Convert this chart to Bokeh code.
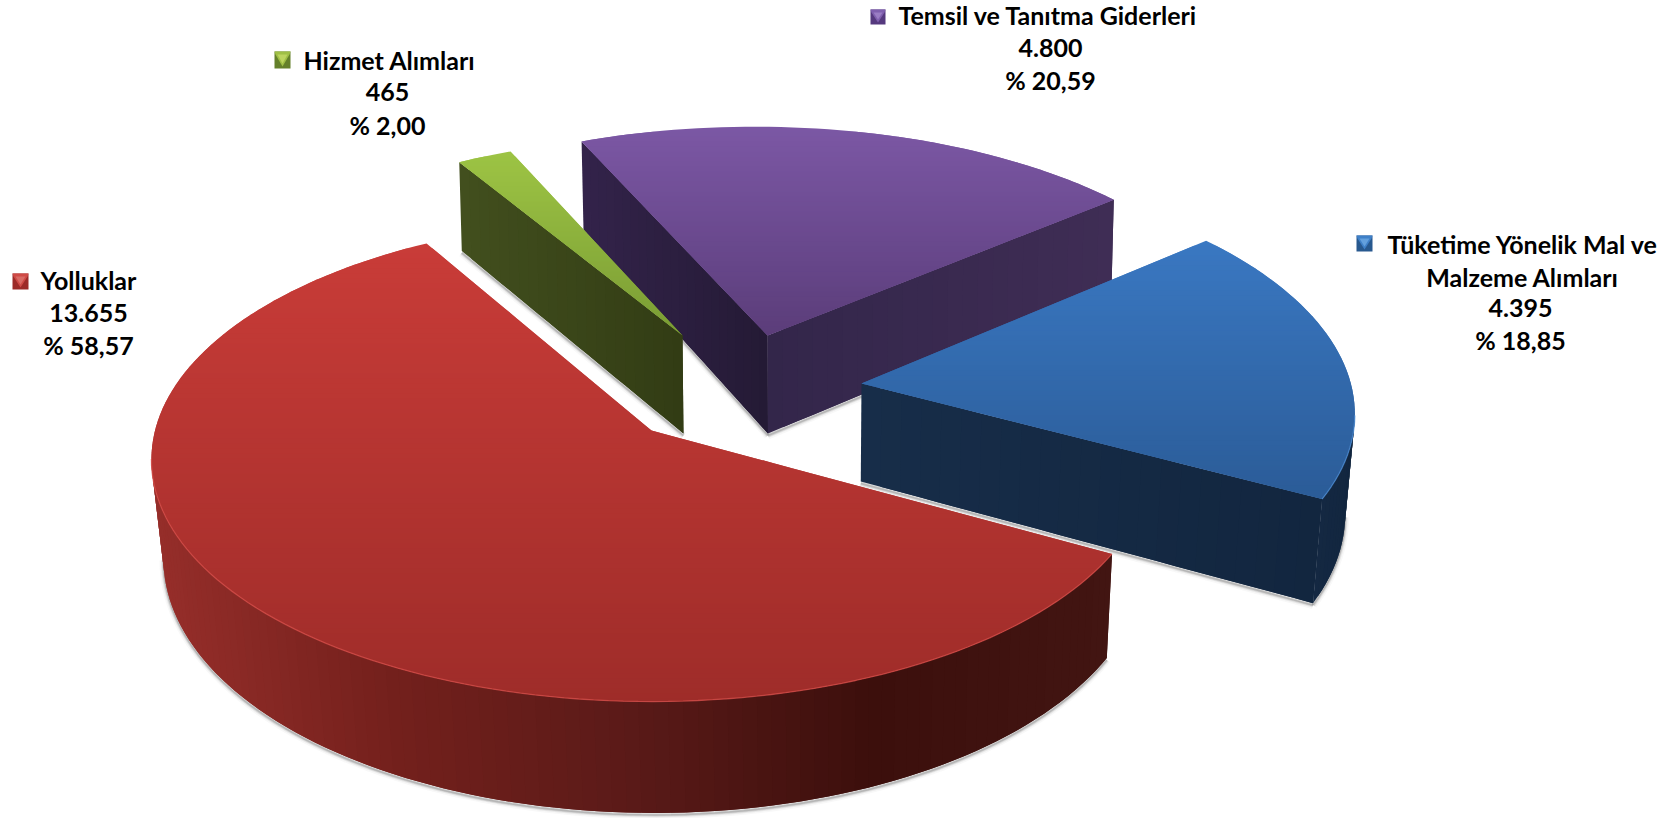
import numpy as np
from bokeh.plotting import figure
from bokeh.models import Range1d
from bokeh.core.properties import value
from bokeh.embed import file_html
from bokeh.resources import INLINE

# ---------- data ----------
categories = ["Yolluklar", "Hizmet Alımları", "Temsil ve Tanıtma Giderleri", "Tüketime Yönelik Mal ve Malzeme Alımları"]
values = [13655, 465, 4800, 4395]
value_labels = ["13.655", "465", "4.800", "4.395"]
percent_labels = ["% 58,57", "% 2,00", "% 20,59", "% 18,85"]

# ---------- layout / style ----------
W, H = 1670, 818
R, A, K, DEPTH = 495.0, 235.0, 0.12, 98.0     # pie radius, tilted radius, perspective, thickness
VX = 821.0                                    # lower surface shrink centre
VF = [0.982, 0.993, 0.992, 0.982]             # lower surface shrink per slice
FIRST_ANGLE = 119.15                          # clockwise from the top, first slice
APEX = [(651, 430), (682, 335), (767, 335), (861, 383)]
# per-slice view correction: radius scale, tilt scale, x shift, y shift, shear
VIEW = [(1.003, 1.015, 0, 0, 0), (1.0, 1.0, 1, 11, 0), (1.0, 1.0, -13, 1, 0), (0.985, 1.0, 0, -6, 16)]
DRAW_ORDER = [2, 1, 3, 0]
TOP = [((201, 60, 56), (158, 44, 41), 240, 705),
       ((157, 196, 68), (122, 156, 52), 150, 335),
       ((123, 87, 164), (91, 61, 122), 130, 335),
       ((58, 120, 194), (43, 92, 152), 240, 495)]
WALL = [{"arc": [(150, 46, 42), (115, 32, 28), (90, 26, 24), (60, 15, 12), (66, 21, 18)]},
        {"a": [(66, 79, 30), (50, 60, 20)]},
        {"a": [(51, 35, 74), (36, 26, 53)], "b": [(51, 38, 74), (63, 45, 85)]},
        {"arc": [(20, 40, 66), (18, 38, 63)], "b": [(23, 45, 73), (18, 38, 63)]}]
RIM = ["#d9504b", "#b5d765", "#9070b8", "#4f8ed6"]
KEYS = [(12, 273, 28, 289, "#cf4a46", "#9c2a28", "#d86a64"),
        (274, 51, 290, 68, "#9fbf45", "#64802a", "#bcd45f"),
        (870, 9, 885, 24, "#7f5fae", "#55397e", "#9a7dc4"),
        (1356, 235, 1372, 251, "#3f80c8", "#28598f", "#63a0dd")]
TEXTS = [[(40, 279, "left"), (88, 312, "center"), (88, 344, "center")],
         [(303, 59, "left"), (387, 91, "center"), (387, 124, "center")],
         [(898, 14, "left"), (1050, 47, "center"), (1050, 79, "center")],
         [(1387, 243, "left"), (1522, 276, "center"), (1520, 307, "center"), (1520, 339, "center")]]
FONT_PX = 25

p = figure(width=W, height=H, x_range=Range1d(0, W), y_range=Range1d(H, 0),
           output_backend="svg", toolbar_location=None,
           x_axis_location=None, y_axis_location=None, min_border=0)
p.grid.visible = False
p.outline_line_color = None
p.background_fill_color = "white"


def hexc(c):
    return "#%02x%02x%02x" % tuple(int(round(v)) for v in c)


def ramp(stops, t):
    t = min(max(t, 0.0), 1.0) * (len(stops) - 1)
    i = min(int(t), len(stops) - 2)
    f = t - i
    return tuple(stops[i][j] * (1 - f) + stops[i + 1][j] * f for j in range(3))


def rim_points(i, a0, a1):
    n = max(int((a1 - a0) / 1.5), 3)
    th = np.radians(np.linspace(a0, a1, n))
    X, Y = np.sin(th), -np.cos(th)
    s = 1.0 / (1.0 - K * Y)
    rs, as_, ox, oy, sh = VIEW[i]
    return APEX[i][0] + X * s * R * rs + ox + Y * s * sh, APEX[i][1] + Y * s * A * as_ + oy, s


def lower(i, x, y, s):
    return VX + (np.asarray(x) - VX) * VF[i], np.asarray(y) + DEPTH * np.asarray(s)


def clip(poly, y0, y1):
    def half(pts, lim, keep_above):
        out = []
        for k in range(len(pts)):
            a, b = pts[k], pts[(k + 1) % len(pts)]
            ina = a[1] >= lim if keep_above else a[1] <= lim
            inb = b[1] >= lim if keep_above else b[1] <= lim
            if ina:
                out.append(a)
            if ina != inb:
                f = (lim - a[1]) / (b[1] - a[1])
                out.append((a[0] + (b[0] - a[0]) * f, lim))
        return out
    r = half(poly, y0, True)
    return half(r, y1, False) if r else r


def draw_wall(i, x, y, s, stops):
    # x runs left to right; every quad reaches one step past its end and the next one paints over it
    xb, yb = lower(i, x, y, s)
    lo, hi = min(x), max(x)
    xs, ys, cs = [], [], []
    m = len(x)
    for k in range(m - 1):
        e = min(k + 2, m - 1)
        xs.append(list(x[k:e + 1]) + list(xb[k:e + 1])[::-1])
        ys.append(list(y[k:e + 1]) + list(yb[k:e + 1])[::-1])
        cs.append(hexc(ramp(stops, ((x[k] + x[k + 1]) / 2 - lo) / (hi - lo + 1e-6))))
    p.patches(xs, ys, fill_color=cs, line_color=None)


def split_runs(x, y, s):
    """runs of the rim that walk leftwards, i.e. that face the viewer"""
    runs, cur = [], []
    for k in range(len(x) - 1):
        if x[k + 1] < x[k]:
            cur.append(k)
        elif cur:
            runs.append(cur)
            cur = []
    if cur:
        runs.append(cur)
    return [(x[r[0]:r[-1] + 2], y[r[0]:r[-1] + 2], s[r[0]:r[-1] + 2]) for r in runs]


total = sum(values)
angles = [FIRST_ANGLE]
for v in values:
    angles.append(angles[-1] + 360.0 * v / total)

for i in DRAW_ORDER:
    a0, a1 = angles[i], angles[i + 1]
    rx, ry, rs = rim_points(i, a0, a1)
    ax, ay = APEX[i]
    T = np.linspace(0, 1, 24)
    # radial edges: apex to first rim point, last rim point to apex
    e1 = (ax + (rx[0] - ax) * T, ay + (ry[0] - ay) * T, 1 + (rs[0] - 1) * T)
    e2 = (rx[-1] + (ax - rx[-1]) * T, ry[-1] + (ay - ry[-1]) * T, rs[-1] + (1 - rs[-1]) * T)

    faces = []
    if e1[0][-1] < e1[0][0]:
        faces.append((e1, WALL[i].get("a", WALL[i].get("b"))))
    for run in split_runs(rx, ry, rs):
        if len(run[0]) > 1:
            faces.append((run, WALL[i].get("arc", WALL[i].get("a"))))
    if e2[0][-1] < e2[0][0]:
        faces.append((e2, WALL[i].get("b", WALL[i].get("a"))))

    # soft shadow below the visible walls
    for lw, al in [(8, 0.04), (5, 0.08), (3, 0.14), (1.5, 0.2)]:
        for f, _ in faces:
            xb, yb = lower(i, *f)
            p.line(xb, yb + 2, line_color="#444444", line_width=lw, line_alpha=al)

    # walls
    for f, stops in faces:
        draw_wall(i, f[0][::-1], f[1][::-1], f[2][::-1], stops)

    # top face as a vertical gradient; every band reaches past its end and the next paints over it
    poly = [(ax, ay)] + list(zip(rx, ry))
    c0, c1, y0, y1 = TOP[i]
    ymin, ymax = min(q[1] for q in poly), max(q[1] for q in poly)
    bands = np.arange(ymin, ymax + 5, 5.0)
    xs, ys, cs = [], [], []
    for k in range(len(bands) - 1):
        part = clip(poly, bands[k], bands[min(k + 2, len(bands) - 1)])
        if len(part) >= 3:
            xs.append([q[0] for q in part])
            ys.append([q[1] for q in part])
            t = ((bands[k] + bands[k + 1]) / 2 - y0) / (y1 - y0)
            cs.append(hexc(ramp([c0, c1], t)))
    p.patches(xs, ys, fill_color=cs, line_color=None)

    # bevel highlight on the front of the rim
    for run in split_runs(rx, ry, rs):
        if len(run[0]) > 1:
            p.line(run[0], run[1], line_color=RIM[i], line_width=1.3, line_alpha=0.7)

# legend keys
for i, (x0, y0, x1, y1, top, side, tri) in enumerate(KEYS):
    cx = (x0 + x1) / 2
    p.patch([x0, x1, x1, x0], [y0, y0, y1, y1], fill_color=side, line_color=None)
    p.patch([x0, x1, x1 - 1, cx, x0 + 1], [y0, y0, y0 + 3, y1 - 2, y0 + 3], fill_color=top, line_color=None)
    p.patch([x0 + 3, x1 - 3, cx], [y0 + 3, y0 + 3, y1 - 5], fill_color=tri, line_color=None)

# labels
for i, name in enumerate(categories):
    lines = [name, value_labels[i], percent_labels[i]]
    if len(TEXTS[i]) == 4:
        lines = ["Tüketime Yönelik Mal ve", "Malzeme Alımları", value_labels[i], percent_labels[i]]
    for (x, y, al), line in zip(TEXTS[i], lines):
        p.text([x], [y], text=[line], text_font=value("Lato"), text_font_size=value(f"{FONT_PX}px"),
               text_font_style="bold", text_align=al, text_baseline="middle", text_color="#000000")

open("out.html", "w").write(file_html(p, INLINE))
